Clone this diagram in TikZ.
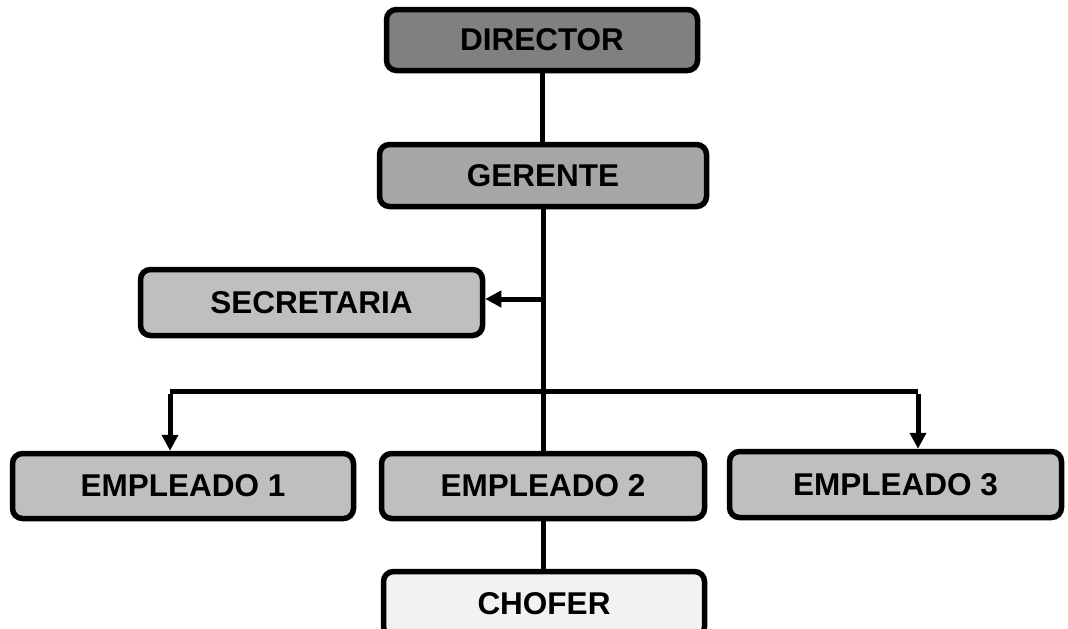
\documentclass[tikz,border=0pt]{standalone}
\usepackage{fontspec}
\setmainfont{Liberation Sans}
\usetikzlibrary{arrows.meta}
\definecolor{cdir}{HTML}{808080}
\definecolor{cger}{HTML}{A6A6A6}
\definecolor{cbox}{HTML}{BFBFBF}
\definecolor{cchof}{HTML}{F2F2F2}
\begin{document}
\begin{tikzpicture}[x=1pt,y=-1pt,
  orgbox/.style={draw, line width=5.5pt, rounded corners=10pt, inner sep=0pt,
    font=\bfseries\fontsize{31.5}{31.5}\selectfont},
  conn/.style={line width=5pt},
  arr/.style={line width=5pt, -{Triangle[length=16pt,width=16pt]}}]
\useasboundingbox (0,0) rectangle (1068,629);
\node[orgbox, fill=cdir, minimum width=311pt, minimum height=61pt] (dir) at (542,40) {DIRECTOR};
\node[orgbox, fill=cger, minimum width=327pt, minimum height=62pt] (ger) at (543,175.5) {GERENTE};
\node[orgbox, fill=cbox, minimum width=342pt, minimum height=66pt] (sec) at (311.5,302.5) {SECRETARIA};
\node[orgbox, fill=cbox, minimum width=341pt, minimum height=65pt] (e1) at (183,486) {\raisebox{-5pt}{EMPLEADO 1}};
\node[orgbox, fill=cbox, minimum width=323pt, minimum height=65pt] (e2) at (543,486) {\raisebox{-5pt}{EMPLEADO 2}};
\node[orgbox, fill=cbox, minimum width=332pt, minimum height=66pt] (e3) at (895.5,484.5) {EMPLEADO 3};
\node[orgbox, fill=cchof, minimum width=321pt, minimum height=65pt] (cho) at (544,604) {CHOFER};
\coordinate (s) at (543,299);
\coordinate (bl) at (170,391);
\coordinate (br) at (918,391);
\draw[conn] (dir.south) -- (dir.south |- ger.north);
\draw[conn] (ger.south) -- (e2.north);
\draw[conn] (e2.south) -- (e2.south |- cho.north);
\draw[arr] (s) -- (s -| sec.east);
\draw[conn] (bl) -- (br);
\draw[arr] ([yshift=-2.5pt]bl) -- (bl |- e1.north);
\draw[arr] ([yshift=-2.5pt]br) -- (br |- e3.north);
\end{tikzpicture}
\end{document}
